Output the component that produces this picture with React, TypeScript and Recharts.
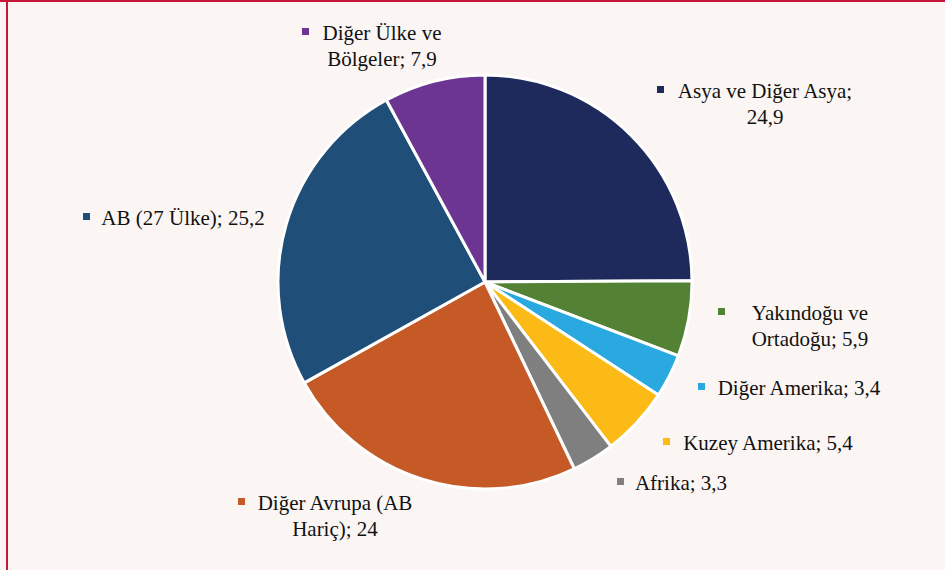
import { PieChart, Pie, Cell } from 'recharts'

const names = [
  'Asya ve Diğer Asya',
  'Yakındoğu ve Ortadoğu',
  'Diğer Amerika',
  'Kuzey Amerika',
  'Afrika',
  'Diğer Avrupa (AB Hariç)',
  'AB (27 Ülke)',
  'Diğer Ülke ve Bölgeler'
]

const values = [24.9, 5.9, 3.4, 5.4, 3.3, 24, 25.2, 7.9]

const COLORS = [
  '#1F2A5C', // navy
  '#548235', // green
  '#2AA9E0', // cyan
  '#FBBA16', // yellow
  '#7F7F7F', // grey
  '#C55A27', // orange
  '#1F4E79', // blue
  '#6C3591'  // purple
]

// label placement: text center x, first baseline y, marker x, words on first line
const LABEL_LAYOUT = [
  { x: 765, y: 98, mx: 657, words: 4 },
  { x: 810, y: 320, mx: 718, words: 2 },
  { x: 799, y: 395, mx: 698, words: 99 },
  { x: 768, y: 450, mx: 663, words: 99 },
  { x: 681, y: 490, mx: 617, words: 99 },
  { x: 335, y: 510, mx: 238, words: 3 },
  { x: 183, y: 225, mx: 83, words: 99 },
  { x: 382, y: 40, mx: 302, words: 3 }
]

const data = names.map((name, i) => ({ name, value: values[i] }))

const fmt = (v: number) => String(v).replace('.', ',')

const renderLabel = (props: any) => {
  const { index } = props
  const lay = LABEL_LAYOUT[index]
  const words = `${names[index]}; ${fmt(values[index])}`.split(' ')
  const lines = [words.slice(0, lay.words).join(' ')]
  if (words.length > lay.words) lines.push(words.slice(lay.words).join(' '))
  return (
    <g key={`lbl-${index}`}>
      <rect x={lay.mx} y={lay.y - 12} width={7} height={7} fill={COLORS[index]} />
      {lines.map((ln, j) => (
        <text
          key={j}
          x={lay.x}
          y={lay.y + j * 26}
          textAnchor="middle"
          style={{ fontFamily: '"Liberation Serif", "DejaVu Serif", serif', fontSize: 21 }}
          fill="#111111"
        >
          {ln}
        </text>
      ))}
    </g>
  )
}

export default function App() {
  return (
    <div
      style={{
        position: 'fixed',
        left: 0,
        top: 0,
        width: 945,
        height: 570,
        background: '#FBF6F3'
      }}
    >
      <div style={{ position: 'absolute', left: 0, top: 0, width: 945, height: 2, background: '#C8163B' }} />
      <div style={{ position: 'absolute', left: 6, top: 0, width: 2, height: 570, background: '#C8163B' }} />
      <PieChart width={945} height={570} margin={{ top: 0, right: 0, bottom: 0, left: 0 }}>
        <Pie
          data={data}
          dataKey="value"
          nameKey="name"
          cx={485}
          cy={282}
          outerRadius={207}
          startAngle={90}
          endAngle={-270}
          stroke="#FFFFFF"
          strokeWidth={3}
          labelLine={false}
          label={renderLabel}
          isAnimationActive={false}
        >
          {data.map((_, i) => (
            <Cell key={`cell-${i}`} fill={COLORS[i]} />
          ))}
        </Pie>
      </PieChart>
    </div>
  )
}
